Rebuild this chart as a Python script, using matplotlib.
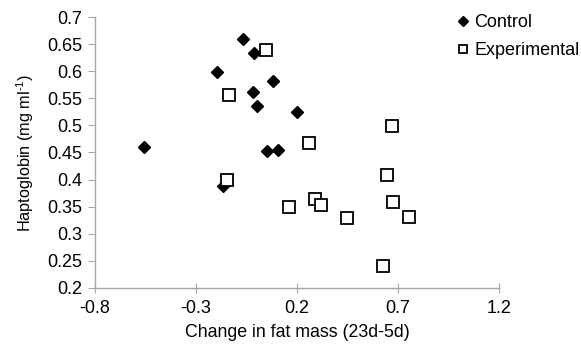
import matplotlib.pyplot as plt

plt.rcParams['font.family'] = ['Liberation Sans', 'DejaVu Sans']
plt.rcParams['mathtext.fontset'] = 'custom'
plt.rcParams['mathtext.rm'] = 'Liberation Sans'
plt.rcParams['mathtext.it'] = 'Liberation Sans:italic'

# Control group: change in fat mass vs haptoglobin
control_x = [-0.557, -0.198, -0.067, -0.013, -0.016, 0.000, 0.080, 0.199, 0.050, 0.104, -0.165]
control_y = [0.460, 0.599, 0.659, 0.634, 0.562, 0.536, 0.581, 0.525, 0.453, 0.455, 0.388]

# Experimental group
exp_x = [0.045, -0.135, 0.669, 0.261, -0.148, 0.647, 0.162, 0.289, 0.317, 0.449, 0.674, 0.756, 0.624]
exp_y = [0.639, 0.556, 0.499, 0.467, 0.399, 0.408, 0.349, 0.364, 0.354, 0.329, 0.359, 0.331, 0.241]

x_ticks = [-0.8, -0.3, 0.2, 0.7, 1.2]
y_ticks = [0.2, 0.25, 0.3, 0.35, 0.4, 0.45, 0.5, 0.55, 0.6, 0.65, 0.7]


def main():
    fig = plt.figure(figsize=(5.81, 3.48), dpi=100)
    ax = fig.add_axes([95 / 581, 1 - 288 / 348, 404 / 581, 271 / 348])

    ax.plot(control_x, control_y, linestyle='none', marker='D', markersize=6.2,
            color='black', label='Control', clip_on=False)
    ax.plot(exp_x, exp_y, linestyle='none', marker='s', markersize=8.5,
            markerfacecolor='white', markeredgecolor='black', markeredgewidth=1.3,
            label='Experimental', clip_on=False)

    ax.set_xlim(-0.8, 1.2)
    ax.set_ylim(0.2, 0.7)
    ax.set_xticks(x_ticks)
    ax.set_xticklabels(['-0.8', '-0.3', '0.2', '0.7', '1.2'])
    ax.set_yticks(y_ticks)
    ax.set_yticklabels(['0.2', '0.25', '0.3', '0.35', '0.4', '0.45', '0.5',
                        '0.55', '0.6', '0.65', '0.7'])

    for side in ['top', 'right']:
        ax.spines[side].set_visible(False)
    for side in ['left', 'bottom']:
        ax.spines[side].set_color('#a6a6a6')
        ax.spines[side].set_linewidth(1.0)
    ax.tick_params(axis='y', direction='out', length=5, color='#a6a6a6',
                   labelsize=13, pad=4)
    ax.tick_params(axis='x', direction='inout', length=7, color='#a6a6a6',
                   labelsize=13, pad=5)

    ax.set_xlabel('Change in fat mass (23d-5d)', fontsize=12.8, labelpad=5)
    ax.set_ylabel(r'Haptoglobin (mg ml$^{\text{-1}}$)', fontsize=11.7, labelpad=8)

    ax.legend(loc='upper left', bbox_to_anchor=(458 / 581, 1 - 14 / 348),
              bbox_transform=fig.transFigure, frameon=False, fontsize=13,
              handlelength=0.6, handletextpad=0.3, labelspacing=0.6,
              borderpad=0, borderaxespad=0, markerscale=0.75)

    fig.savefig('out.png', dpi=100)


if __name__ == '__main__':
    main()
